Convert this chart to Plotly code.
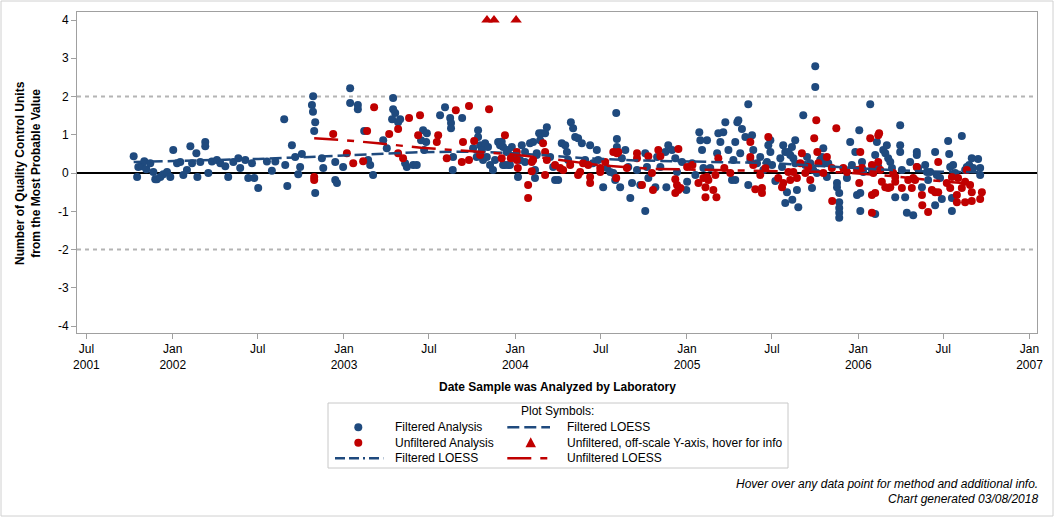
import plotly.graph_objects as go
from datetime import datetime

# ---------------- data (decimal year, QC units) ----------------
filtered_points = [
    (2001.772, 0.44), (2001.792, -0.10), (2001.799, 0.16), (2001.821, 0.18), (2001.834, 0.31),
    (2001.846, 0.10), (2001.869, 0.26), (2001.887, 0.03), (2001.898, -0.16), (2001.908, -0.16),
    (2001.928, -0.10), (2001.945, -0.03), (2001.967, 0.03), (2001.986, -0.10), (2002.003, 0.60),
    (2002.025, 0.26), (2002.044, 0.29), (2002.062, -0.05), (2002.083, 0.08), (2002.103, 0.70),
    (2002.113, 0.26), (2002.138, 0.52), (2002.144, -0.10), (2002.161, 0.29), (2002.190, 0.81),
    (2002.190, 0.70), (2002.208, 0.00), (2002.229, 0.30), (2002.258, 0.34), (2002.278, 0.26),
    (2002.307, 0.18), (2002.324, -0.10), (2002.354, 0.29), (2002.383, 0.39), (2002.394, 0.13),
    (2002.424, 0.34), (2002.441, -0.13), (2002.463, 0.26), (2002.476, -0.13), (2002.499, -0.39),
    (2002.550, 0.30), (2002.579, 0.06), (2002.599, 0.30), (2002.651, 1.41), (2002.657, 0.21),
    (2002.669, -0.34), (2002.696, 0.73), (2002.715, 0.42), (2002.733, -0.03), (2002.744, 0.16),
    (2002.754, 0.50), (2002.820, 2.01), (2002.813, 1.78), (2002.819, 1.60), (2002.832, 1.33),
    (2002.826, 1.10), (2002.832, -0.52), (2002.871, 0.39), (2002.879, 0.13), (2002.949, 0.29),
    (2002.949, -0.18), (2002.959, -0.26), (2002.995, 0.16), (2003.036, 2.22), (2003.036, 1.83),
    (2003.081, 1.78), (2003.081, 1.67), (2003.118, 1.10), (2003.141, 0.34), (2003.153, 0.21),
    (2003.170, -0.05), (2003.229, 0.86), (2003.250, 0.65), (2003.287, 1.96), (2003.287, 1.67),
    (2003.299, 1.57), (2003.281, 1.41), (2003.316, 1.33), (2003.328, 1.41), (2003.357, 0.26),
    (2003.367, 0.16), (2003.404, 0.21), (2003.425, 0.21), (2003.462, 1.12), (2003.484, 1.04),
    (2003.450, 0.86), (2003.468, 0.60), (2003.480, 0.81), (2003.561, 1.51), (2003.590, 1.72),
    (2003.620, 1.44), (2003.625, 1.31), (2003.625, 1.17), (2003.637, 0.42), (2003.635, 0.08),
    (2003.690, 1.44), (2003.783, 1.12), (2003.783, 0.94), (2003.754, 0.65), (2003.775, 0.42),
    (2003.795, 0.73), (2003.805, 0.60), (2003.812, 0.34), (2003.824, 0.78), (2003.834, 0.42),
    (2003.841, 0.68), (2003.853, 0.21), (2003.870, 0.08), (2003.882, 0.34), (2003.900, 0.81),
    (2003.911, 0.73), (2003.929, 0.21), (2003.950, 0.55), (2003.958, 0.21), (2003.980, 0.68),
    (2004.009, 0.42), (2004.016, -0.10), (2004.038, 0.73), (2004.057, 0.29), (2004.086, 0.78),
    (2004.104, 0.81), (2004.115, 0.08), (2004.125, 0.47), (2004.139, 1.04),
    (2003.921, 0.82), (2003.929, 0.68), (2003.940, 0.21), (2003.958, 0.60), (2003.969, 0.21),
    (2004.028, 0.34), (2004.057, 0.55), (2004.115, -0.13), (2004.125, 0.52), (2004.145, 0.86),
    (2004.155, 1.04), (2004.174, 1.04), (2004.184, 1.20), (2004.203, 0.42), (2004.221, 0.16),
    (2004.232, -0.18), (2004.250, -0.18), (2004.271, 0.78), (2004.291, 0.73), (2004.301, 0.55),
    (2004.308, 0.34), (2004.324, 1.33), (2004.337, 1.17), (2004.349, 0.94), (2004.366, 0.91),
    (2004.388, 0.78), (2004.407, 0.34), (2004.436, 0.73), (2004.452, 0.26), (2004.475, 0.60),
    (2004.483, 0.34), (2004.512, -0.37), (2004.534, 0.13), (2004.553, 0.03), (2004.571, 0.00),
    (2004.582, -0.18), (2004.588, 1.57), (2004.592, 0.89), (2004.592, 0.68), (2004.611, -0.37),
    (2004.621, 0.39), (2004.641, 0.60), (2004.658, 0.16), (2004.670, -0.65), (2004.680, -0.26),
    (2004.709, 0.08), (2004.728, -0.31), (2004.757, 0.52), (2004.757, -0.99), (2004.767, 0.16),
    (2004.775, -0.13), (2004.816, -0.37), (2004.826, 0.42), (2004.845, 0.16), (2004.874, 0.55),
    (2004.880, -0.37), (2004.891, 0.73), (2004.913, 0.60), (2004.932, 0.39), (2004.942, 0.03),
    (2004.971, 0.29), (2005.001, -0.23), (2004.996, -0.44), (2005.030, 0.26), (2005.049, -0.05),
    (2005.072, 1.07), (2005.078, 0.86), (2005.088, 0.60), (2005.096, 0.13), (2005.117, 0.86),
    (2005.136, 0.13), (2005.176, 0.52), (2005.183, 1.04), (2005.195, 0.81), (2005.212, 1.07),
    (2005.224, 1.33), (2005.242, 0.60), (2005.263, -0.18), (2005.271, 0.34), (2005.282, -0.18),
    (2005.282, 0.81), (2005.294, 1.33), (2005.300, 1.38), (2005.311, 0.52), (2005.321, 1.15),
    (2005.341, 0.94), (2005.358, 1.80), (2005.358, -0.31), (2005.370, 0.34), (2005.380, 0.99),
    (2005.387, 0.60), (2005.409, 0.26), (2005.428, 0.42), (2005.446, 0.08), (2005.467, 0.29),
    (2005.475, 0.73),
    (2005.487, 0.86), (2005.487, 0.55), (2005.497, 0.21), (2005.516, -0.21), (2005.545, 0.39),
    (2005.555, 0.16), (2005.562, 0.73), (2005.574, 0.55), (2005.574, -0.78), (2005.584, -0.50),
    (2005.592, 0.55), (2005.603, 0.47), (2005.613, 0.68), (2005.615, -0.70), (2005.621, 0.39),
    (2005.632, 0.86), (2005.632, 0.26), (2005.642, -0.44), (2005.650, -0.89), (2005.679, 1.51),
    (2005.691, 0.21), (2005.701, 0.42), (2005.720, 0.26), (2005.730, -0.39), (2005.737, 0.08),
    (2005.749, 2.79), (2005.749, 2.25), (2005.759, 0.00), (2005.778, 0.34), (2005.788, 0.42),
    (2005.796, 0.65), (2005.807, 0.26), (2005.817, -0.10), (2005.825, 0.26), (2005.876, -0.26),
    (2005.876, -0.37), (2005.889, -0.52), (2005.889, -0.76), (2005.889, -0.91), (2005.889, -1.04),
    (2005.889, -1.17), (2005.934, -0.13), (2005.953, 0.81), (2005.963, 0.21), (2005.983, 0.55),
    (2005.993, -0.57), (2006.006, 1.12), (2006.012, -0.52), (2006.012, -0.99), (2006.022, 0.29),
    (2006.029, 0.03), (2006.070, 1.80), (2006.080, 0.08), (2006.099, 0.47), (2006.109, 0.81),
    (2006.117, 0.16), (2006.099, -1.07), (2006.146, 0.60), (2006.158, 0.52), (2006.167, 0.73),
    (2006.175, 0.39), (2006.187, 0.29), (2006.197, 0.13), (2006.216, -0.63), (2006.245, 1.25),
    (2006.245, 0.73), (2006.245, 0.55), (2006.255, 0.08), (2006.284, -1.04), (2006.274, -0.63),
    (2006.303, 0.29), (2006.321, -1.10), (2006.342, 0.55), (2006.342, 0.47), (2006.342, 0.16),
    (2006.350, 0.13), (2006.372, -0.37), (2006.391, 0.21), (2006.401, 0.03), (2006.408, -0.18),
    (2006.420, 0.03), (2006.449, 0.55), (2006.449, -0.84), (2006.459, -0.05), (2006.478, -0.13),
    (2006.488, -0.68), (2006.525, 0.84), (2006.531, 0.50), (2006.537, 0.16), (2006.547, -0.65),
    (2006.547, -0.99), (2006.554, 0.21), (2006.566, 0.00), (2006.605, 0.97), (2006.624, 0.08),
    (2006.634, 0.16), (2006.648, 0.21), (2006.663, 0.39), (2006.671, 0.13), (2006.700, 0.37),
    (2006.712, -0.05), (2006.712, 0.13),
]

unfiltered_points = [
    (2002.826, -0.10), (2002.826, -0.18), (2002.937, 1.02), (2003.017, 0.52), (2003.054, 0.26),
    (2003.112, 0.31), (2003.135, 1.10), (2003.176, 1.72), (2003.264, 1.02), (2003.316, 1.15),
    (2003.316, 0.52), (2003.345, 0.39), (2003.380, 1.44), (2003.433, 0.99), (2003.444, 1.51),
    (2003.542, 0.81), (2003.550, 0.99), (2003.600, 0.39), (2003.653, 1.64), (2003.695, 0.81),
    (2003.688, 0.29), (2003.730, 1.75), (2003.730, 0.34), (2003.760, 0.84), (2003.795, 0.47),
    (2003.847, 1.67), (2003.921, 0.39), (2003.940, 0.99), (2003.974, 0.39), (2004.009, 0.55),
    (2004.009, 0.34), (2004.015, 0.13), (2004.075, -0.31), (2004.075, -0.65), (2004.096, 0.29),
    (2004.096, 0.05), (2004.104, 0.34),
    (2004.162, 0.78), (2004.174, 0.55), (2004.174, -0.05), (2004.184, 0.34), (2004.232, 0.21),
    (2004.261, 0.13), (2004.279, 0.08), (2004.320, 0.21), (2004.366, -0.05), (2004.378, 0.03),
    (2004.395, 0.26), (2004.425, 0.21), (2004.436, -0.10), (2004.436, -0.26), (2004.495, 0.13),
    (2004.495, 0.03), (2004.524, 0.29), (2004.571, 0.55), (2004.592, 0.52), (2004.600, 0.55),
    (2004.588, -0.13), (2004.650, 0.13), (2004.709, 0.52), (2004.709, 0.39), (2004.738, -0.31),
    (2004.775, 0.44), (2004.796, 0.00), (2004.802, -0.44), (2004.833, 0.60), (2004.845, 0.44),
    (2004.932, -0.16), (2004.942, -0.31), (2004.950, 0.63), (2004.932, -0.52), (2004.950, -0.44),
    (2004.962, -0.39), (2005.001, 0.16), (2005.032, 0.21), (2005.067, -0.26), (2005.096, -0.13),
    (2005.108, -0.37), (2005.117, -0.10), (2005.125, -0.18), (2005.108, -0.63), (2005.154, -0.44),
    (2005.172, -0.63), (2005.166, -0.05), (2005.183, 0.39), (2005.218, 0.13), (2005.253, 0.00),
    (2005.370, 0.81), (2005.370, 0.42), (2005.387, 0.21), (2005.399, -0.42), (2005.428, -0.05),
    (2005.438, -0.39), (2005.438, -0.52), (2005.458, 0.13), (2005.475, 0.94),
    (2005.533, -0.13), (2005.555, -0.37), (2005.562, -0.26), (2005.592, 0.03), (2005.603, -0.18),
    (2005.621, 0.03), (2005.642, -0.13), (2005.671, 0.52), (2005.662, 0.26), (2005.691, 0.00),
    (2005.708, 0.16), (2005.720, -0.18), (2005.743, 0.91), (2005.755, 1.38), (2005.761, 0.55),
    (2005.767, 0.26), (2005.796, 0.00), (2005.817, 0.42), (2005.846, 0.13), (2005.848, -0.73),
    (2005.872, 1.17), (2005.913, 0.13), (2005.934, 0.03), (2005.993, 0.08), (2006.012, 0.55),
    (2006.022, 0.13), (2006.006, -0.26), (2006.070, 0.91), (2006.080, 0.21), (2006.088, 0.00),
    (2006.080, -0.57), (2006.080, -1.04), (2006.099, -0.52), (2006.117, 0.99), (2006.122, 1.04),
    (2006.117, 0.29), (2006.129, 0.08), (2006.138, -0.23), (2006.158, -0.37), (2006.175, -0.39),
    (2006.187, -0.37), (2006.204, 0.00), (2006.216, -0.10), (2006.216, -0.23), (2006.255, -0.39),
    (2006.292, -0.18), (2006.313, -0.39), (2006.321, -0.13), (2006.342, 0.16), (2006.332, -0.18),
    (2006.372, -0.57), (2006.374, -0.84), (2006.408, -1.02), (2006.430, -0.44), (2006.449, -0.50),
    (2006.467, 0.29), (2006.467, -0.50), (2006.517, -0.26), (2006.537, -0.39), (2006.547, -0.10),
    (2006.576, -0.57), (2006.583, -0.13), (2006.576, -0.76), (2006.605, -0.39), (2006.624, -0.23),
    (2006.634, 0.08), (2006.624, -0.76), (2006.653, -0.31), (2006.663, -0.50), (2006.663, -0.73),
    (2006.712, -0.68), (2006.722, -0.50),
]

offscale_points = [(2003.835, 4.0), (2003.876, 4.0), (2004.005, 4.0)]

filtered_loess = [
    (2001.772, 0.29), (2002.0, 0.31), (2002.5, 0.37), (2002.8, 0.42), (2003.1, 0.49),
    (2003.4, 0.54), (2003.7, 0.56), (2003.95, 0.53), (2004.15, 0.47), (2004.4, 0.39),
    (2004.7, 0.33), (2005.0, 0.30), (2005.3, 0.28), (2005.5, 0.26), (2005.8, 0.18),
    (2006.1, 0.10), (2006.4, 0.04), (2006.712, 0.02),
]

unfiltered_loess = [
    (2002.826, 0.91), (2003.0, 0.86), (2003.2, 0.78), (2003.45, 0.66), (2003.75, 0.57),
    (2004.0, 0.48), (2004.2, 0.38), (2004.5, 0.20), (2004.8, 0.11), (2005.1, 0.08),
    (2005.5, 0.05), (2005.9, 0.02), (2006.2, -0.08), (2006.5, -0.22), (2006.722, -0.30),
]

tick_dates = ["2001-07-01", "2002-01-01", "2002-07-01", "2003-01-01", "2003-07-01",
              "2004-01-01", "2004-07-01", "2005-01-01", "2005-07-01", "2006-01-01",
              "2006-07-01", "2007-01-01"]
tick_text = ["Jul<br>2001", "Jan<br>2002", "Jul", "Jan<br>2003", "Jul", "Jan<br>2004",
             "Jul", "Jan<br>2005", "Jul", "Jan<br>2006", "Jul", "Jan<br>2007"]
y_tick_vals = [-4, -3, -2, -1, 0, 1, 2, 3, 4]
y_tick_text = ["-4", "-3", "-2", "-1", "0", "1", "2", "3", "4"]

BLUE = "#1F4A7E"
RED = "#C00000"
W, H = 1056, 518


def to_date(d):
    y = int(d)
    a = datetime(y, 1, 1)
    b = datetime(y + 1, 1, 1)
    return a + (b - a) * (d - y)


def xs(pts):
    return [to_date(p[0]) for p in pts]


def ys(pts):
    return [p[1] for p in pts]


def px(x):
    return x / W


def py(y):
    return 1 - y / H


fig = go.Figure()
fig.add_trace(go.Scatter(x=xs(filtered_points), y=ys(filtered_points), mode="markers",
                         marker=dict(color=BLUE, size=8), name="Filtered Analysis"))
fig.add_trace(go.Scatter(x=xs(unfiltered_points), y=ys(unfiltered_points), mode="markers",
                         marker=dict(color=RED, size=8), name="Unfiltered Analysis"))
fig.add_trace(go.Scatter(x=xs(offscale_points), y=ys(offscale_points), mode="markers",
                         marker=dict(color=RED, size=10, symbol="triangle-up"),
                         name="Unfiltered, off-scale Y-axis"))
fig.add_trace(go.Scatter(x=xs(filtered_loess), y=ys(filtered_loess), mode="lines",
                         line=dict(color=BLUE, width=2.5, dash="12px,5px"),
                         name="Filtered LOESS"))
fig.add_trace(go.Scatter(x=xs(unfiltered_loess), y=ys(unfiltered_loess), mode="lines",
                         line=dict(color=RED, width=2.5, dash="24px,9px,7px,9px"),
                         name="Unfiltered LOESS"))

shapes = []
# reference lines
for v, col, dash, wd in [(2, "#B4B4B4", "4px,4px", 2), (-2, "#B4B4B4", "4px,4px", 2),
                         (0, "#000000", "solid", 2)]:
    shapes.append(dict(type="line", xref="paper", yref="y", x0=px(77), x1=px(1037), y0=v, y1=v,
                       line=dict(color=col, width=wd, dash=dash), layer="below"))
# outer frame
shapes.append(dict(type="rect", xref="paper", yref="paper", x0=px(1), x1=px(1053), y0=py(516),
                   y1=py(1), line=dict(color="#D0D0D0", width=1)))
# legend box
shapes.append(dict(type="rect", xref="paper", yref="paper", x0=px(328), x1=px(788), y0=py(468),
                   y1=py(403), line=dict(color="#C8C8C8", width=1)))
rows = [427.3, 442.7, 458.3]


def circle(cx, cy, col):
    return dict(type="circle", xref="paper", yref="paper", x0=px(cx - 4), x1=px(cx + 4),
                y0=py(cy + 4), y1=py(cy - 4), fillcolor=col, line=dict(color=col, width=0))


shapes.append(circle(358.3, rows[0], BLUE))
shapes.append(circle(358.3, rows[1], RED))
shapes.append(dict(type="path", xref="paper", yref="paper",
                   path="M %f,%f L %f,%f L %f,%f Z" % (px(525.5), py(rows[1] + 4.5), px(536), py(rows[1] + 4.5),
                                                        px(530.7), py(rows[1] - 5.5)),
                   fillcolor=RED, line=dict(color=RED, width=0)))
for x0, x1, y, col, dash in [(507.3, 550, rows[0], BLUE, "12px,5px"),
                             (335, 383.3, rows[2], BLUE, "10px,4px,10px,4px,2px,4px"),
                             (507.3, 552, rows[2], RED, "24px,9px,7px,9px")]:
    shapes.append(dict(type="line", xref="paper", yref="paper", x0=px(x0), x1=px(x1), y0=py(y),
                       y1=py(y), line=dict(color=col, width=2.5, dash=dash)))

font = "Liberation Sans, Arial, sans-serif"
annotations = [
    dict(text="Plot Symbols:", x=px(557.7), y=py(410.7), xanchor="center", yanchor="middle"),
    dict(text="Filtered Analysis", x=px(392.7), y=py(rows[0]), xanchor="left", yanchor="middle"),
    dict(text="Unfiltered Analysis", x=px(392.7), y=py(rows[1]), xanchor="left", yanchor="middle"),
    dict(text="Filtered LOESS", x=px(392.7), y=py(rows[2]), xanchor="left", yanchor="middle"),
    dict(text="Filtered LOESS", x=px(565), y=py(rows[0]), xanchor="left", yanchor="middle"),
    dict(text="Unfiltered, off-scale Y-axis, hover for info", x=px(565), y=py(rows[1]),
         xanchor="left", yanchor="middle"),
    dict(text="Unfiltered LOESS", x=px(565), y=py(rows[2]), xanchor="left", yanchor="middle"),
    dict(text="<i>Hover over any data point for method and additional info.</i>", x=px(1040),
         y=py(484), xanchor="right", yanchor="middle"),
    dict(text="<i>Chart generated 03/08/2018</i>", x=px(1040), y=py(499), xanchor="right",
         yanchor="middle"),
    dict(text="<b>Date Sample was Analyzed by Laboratory</b>", x=px(557), y=py(387),
         xanchor="center", yanchor="middle"),
    dict(text="<b>Number of Quality Control Units<br>from the Most Probable Value</b>", x=px(28),
         y=py(173), xanchor="center", yanchor="middle", textangle=-90),
]
for a in annotations:
    a.update(xref="paper", yref="paper", showarrow=False,
             font=dict(family=font, size=12, color="#000000"))

fig.update_layout(
    width=W, height=H, autosize=False,
    margin=dict(l=0, r=0, t=0, b=0, autoexpand=False),
    paper_bgcolor="white", plot_bgcolor="white",
    showlegend=False,
    shapes=shapes, annotations=annotations,
    font=dict(family=font, size=12, color="#000000"),
    xaxis=dict(domain=[px(77), px(1037)], type="date",
               range=[datetime(2001, 6, 11), datetime(2007, 1, 17)],
               tickvals=tick_dates, ticktext=tick_text, ticks="outside", ticklen=5,
               tickcolor="#A0A0A0", showgrid=False, zeroline=False, showline=True,
               linecolor="#A0A0A0", linewidth=1, mirror=True,
               tickfont=dict(family=font, size=12, color="#000000")),
    yaxis=dict(domain=[py(333), py(12)], range=[-4.18, 4.21], tickvals=y_tick_vals,
               ticktext=y_tick_text,
               ticks="outside", ticklen=5, tickcolor="#A0A0A0", showgrid=False, zeroline=False,
               showline=True, linecolor="#A0A0A0", linewidth=1, mirror=True,
               tickfont=dict(family=font, size=12, color="#000000")),
)

css = ("var s=document.createElement('style');"
       "s.innerHTML='html,body{margin:0;padding:0;width:1056px;height:518px;overflow:hidden;}';"
       "document.head.appendChild(s);")
fig.write_html("out.html", config={"displayModeBar": False, "responsive": False},
               post_script=css)
